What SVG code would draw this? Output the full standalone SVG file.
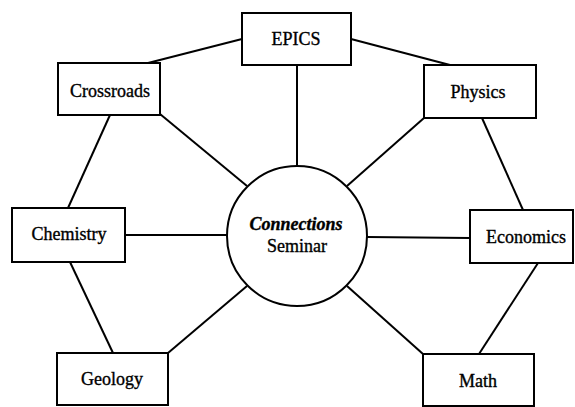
<svg xmlns="http://www.w3.org/2000/svg" width="575" height="407" viewBox="0 0 575 407">
<style>
.box{fill:#fff;stroke:#000;stroke-width:2}
.lbl{font-family:'Liberation Serif','Times New Roman','DejaVu Serif',serif;font-size:18px;fill:#000;stroke:#000;stroke-width:0.35;text-anchor:middle}
#connectors line{stroke:#000;stroke-width:2}
</style>
<rect width="575" height="407" fill="#fff"/>
<g id="connectors">
<line x1="242" y1="39" x2="148" y2="63"/>
<line x1="351" y1="39" x2="450" y2="65"/>
<line x1="297" y1="65" x2="297" y2="166"/>
<line x1="482" y1="118" x2="523" y2="210"/>
<line x1="424" y1="118" x2="347" y2="186"/>
<line x1="110" y1="115" x2="68" y2="208"/>
<line x1="160" y1="114" x2="247" y2="186"/>
<line x1="125" y1="235" x2="227" y2="235"/>
<line x1="367" y1="237" x2="470" y2="238"/>
<line x1="70" y1="262" x2="113" y2="353"/>
<line x1="168" y1="353" x2="247" y2="286"/>
<line x1="538" y1="263" x2="479" y2="354"/>
<line x1="423" y1="354" x2="347" y2="286"/>
</g>
<g id="center"><circle class="box" cx="297" cy="236" r="70"/>
<text class="lbl" x="296" y="230" font-weight="bold" font-style="italic">Connections</text>
<text class="lbl" x="297" y="252">Seminar</text></g>
<g id="epics"><rect class="box" x="242" y="13" width="109" height="52"/><text class="lbl" x="296" y="45">EPICS</text></g>
<g id="crossroads"><rect class="box" x="58" y="63" width="102" height="52"/><text class="lbl" x="110" y="97">Crossroads</text></g>
<g id="physics"><rect class="box" x="424" y="65" width="112" height="53"/><text class="lbl" x="478" y="98">Physics</text></g>
<g id="chemistry"><rect class="box" x="12" y="208" width="113" height="54"/><text class="lbl" x="69" y="240">Chemistry</text></g>
<g id="economics"><rect class="box" x="470" y="210" width="103" height="53"/><text class="lbl" x="526" y="243">Economics</text></g>
<g id="geology"><rect class="box" x="57" y="353" width="111" height="52"/><text class="lbl" x="112" y="385">Geology</text></g>
<g id="math"><rect class="box" x="423" y="354" width="111" height="52"/><text class="lbl" x="478" y="387">Math</text></g>
</svg>
